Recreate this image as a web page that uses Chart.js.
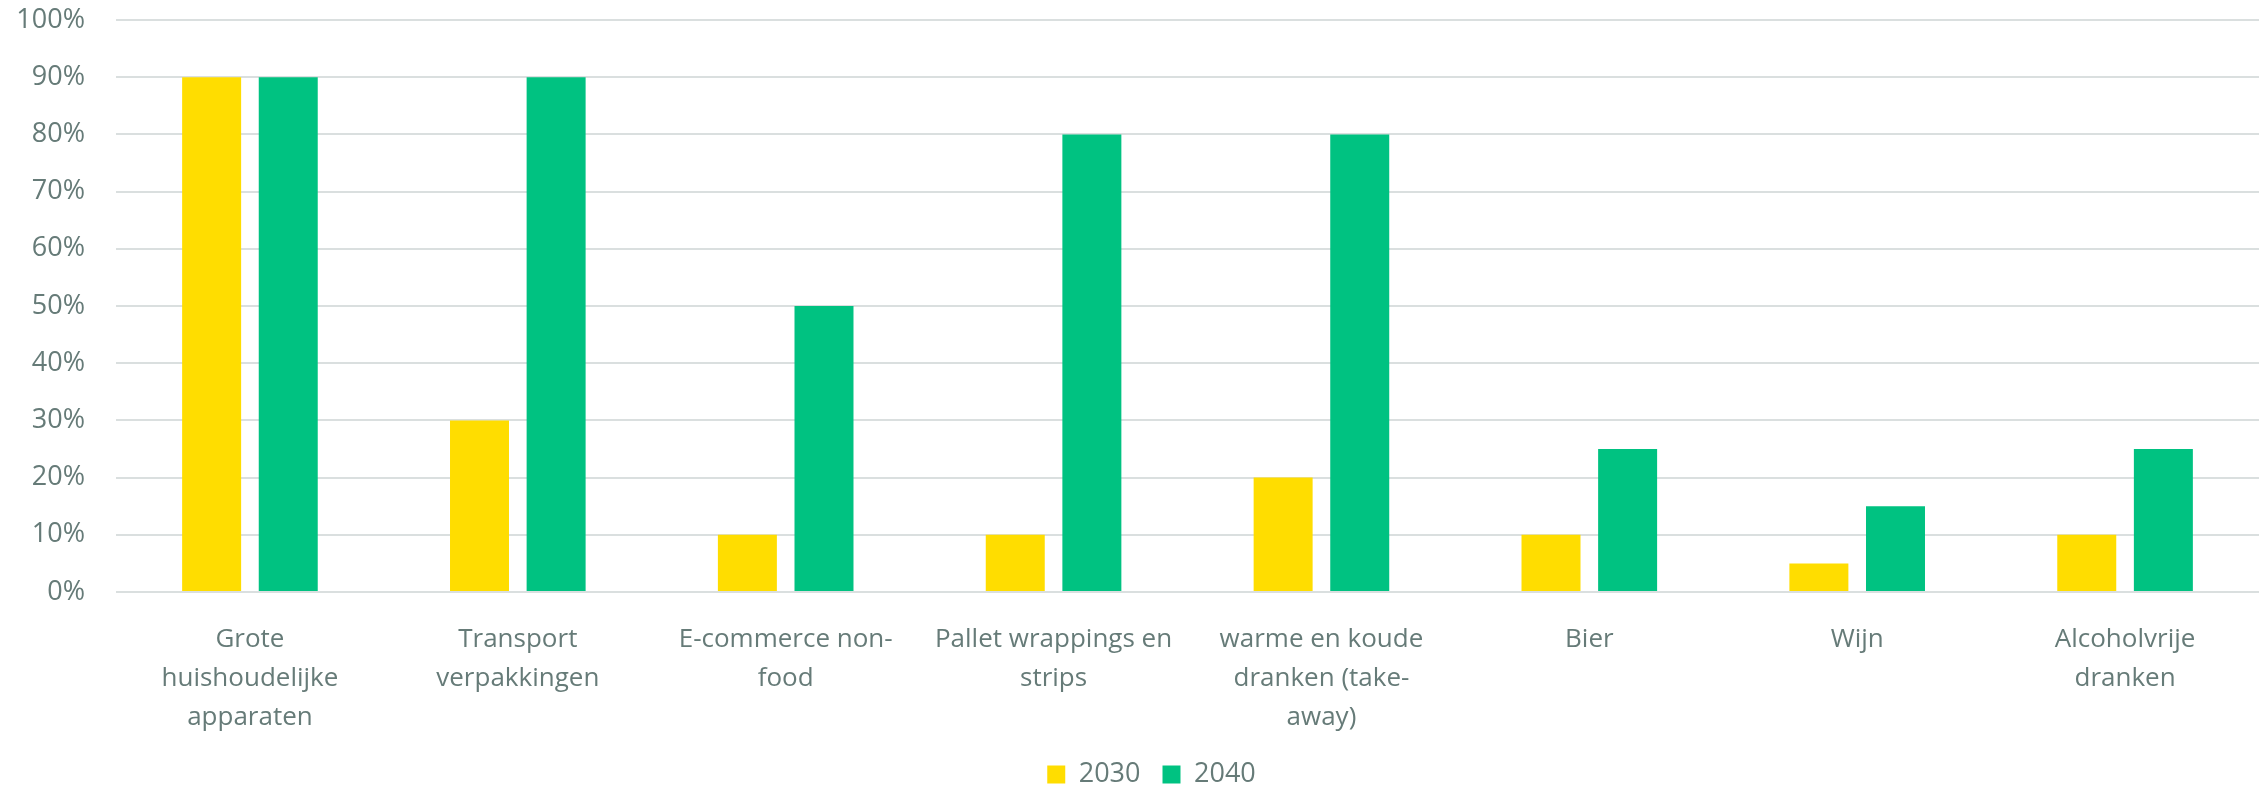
<!DOCTYPE html>
<html>
<head>
<meta charset="utf-8">
<script src="https://cdn.jsdelivr.net/npm/chart.js@4/dist/chart.umd.min.js"></script>
<style>
  html, body { margin: 0; padding: 0; background: #fff; }
  #wrap { width: 2267px; height: 788px; }
</style>
</head>
<body>
<div id="wrap"><canvas id="barChart"></canvas></div>
<script>
// categories (wrapped the same way as the original)
const categories = [
  ['Grote', 'huishoudelijke', 'apparaten'],
  ['Transport', 'verpakkingen'],
  ['E-commerce non-', 'food'],
  ['Pallet wrappings en', 'strips'],
  ['warme en koude', 'dranken (take-', 'away)'],
  'Bier',
  'Wijn',
  ['Alcoholvrije', 'dranken']
];
const values2030 = [90, 30, 10, 10, 20, 10, 5, 10];
const values2040 = [90, 90, 50, 80, 80, 25, 15, 25];
const yTicks = [0, 10, 20, 30, 40, 50, 60, 70, 80, 90, 100];

const textColor = '#667b78';
const gridColor = '#dadfdf';

// nudge the legend a little right, like the original
const legendShift = {
  id: 'legendShift',
  afterLayout(chart) {
    chart.legend.left += 22;
    chart.legend.right += 22;
  }
};

new Chart(document.getElementById('barChart'), {
  type: 'bar',
  data: {
    labels: categories,
    datasets: [
      { label: '2030', data: values2030, backgroundColor: '#ffdd00' },
      { label: '2040', data: values2040, backgroundColor: '#00c281' }
    ]
  },
  plugins: [legendShift],
  options: {
    responsive: true,
    maintainAspectRatio: false,
    animation: false,
    categoryPercentage: 0.572,
    barPercentage: 0.77,
    layout: { padding: { top: 20, right: 8, left: 0, bottom: -10 } },
    plugins: {
      tooltip: { enabled: false },
      legend: {
        position: 'bottom',
        labels: {
          color: textColor,
          font: { family: 'Open Sans', size: 27 },
          boxWidth: 18,
          boxHeight: 18,
          padding: 22
        }
      }
    },
    scales: {
      x: {
        grid: { display: false },
        border: { display: false },
        ticks: {
          color: textColor,
          font: { family: 'Open Sans', size: 26, lineHeight: 1.5 },
          maxRotation: 0,
          autoSkip: false,
          padding: 20
        },
        afterFit: (scale) => { scale.height = 147; }
      },
      y: {
        min: 0,
        max: 100,
        afterBuildTicks: (scale) => { scale.ticks = yTicks.map(v => ({ value: v })); },
        grid: { color: gridColor, lineWidth: 2, drawTicks: false },
        border: { display: false },
        ticks: {
          color: textColor,
          font: { family: 'Open Sans', size: 27 },
          padding: 31,
          callback: (v) => v + '%'
        },
        afterFit: (scale) => {
          scale.width = 116;
          scale.paddingTop = 0;
          scale.paddingBottom = 0;
        }
      }
    }
  }
});
</script>
</body>
</html>
